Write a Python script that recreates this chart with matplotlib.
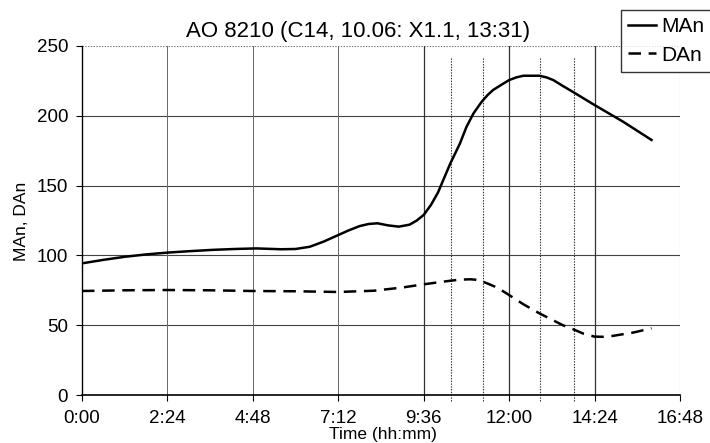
import matplotlib
matplotlib.use("Agg")
import matplotlib.pyplot as plt

plt.rcParams['font.family'] = ['Liberation Sans', 'DejaVu Sans']
plt.rcParams['lines.scale_dashes'] = False

# Data (time in hours)
man_hours = [0.0, 0.6, 1.2, 1.8, 2.4, 3.0, 3.7, 4.3, 4.9, 5.6, 6.0, 6.4, 6.8, 7.2,
             7.5, 7.8, 8.05, 8.3, 8.6, 8.9, 9.2, 9.4, 9.6, 9.8, 10.0, 10.2, 10.35,
             10.62, 10.8, 11.0, 11.23, 11.4, 11.55, 11.8, 12.0, 12.2, 12.4, 12.85,
             13.05, 13.24, 13.5, 13.78, 14.4, 15.2, 16.0]
man_values = [94.3, 96.8, 99.0, 100.7, 102.0, 103.0, 104.0, 104.6, 105.0, 104.4,
              104.6, 106.2, 110.0, 114.6, 118.0, 121.0, 122.5, 123.0, 121.5, 120.6,
              122.0, 124.9, 129.0, 136.0, 145.0, 157.0, 166.0, 180.3, 192.0, 201.8,
              210.1, 215.0, 218.5, 222.5, 225.6, 227.5, 228.7, 228.7, 227.5, 225.6,
              221.5, 217.3, 207.7, 195.8, 182.7]

dan_hours = [0.0, 1.2, 2.4, 3.6, 4.8, 6.0, 7.2, 8.2, 9.0, 9.6, 10.3, 10.6, 10.9,
             11.05, 11.2, 11.4, 11.6, 11.8, 12.0, 12.4, 12.85, 13.5, 13.8, 14.1,
             14.4, 14.65, 14.9, 15.5, 16.0]
dan_values = [74.5, 75.0, 75.2, 75.0, 74.5, 74.3, 73.8, 74.7, 77.0, 79.3, 81.7,
              82.6, 82.9, 82.6, 81.7, 79.8, 77.6, 74.8, 71.6, 65.0, 58.5, 50.1,
              47.1, 43.8, 41.8, 41.7, 42.3, 44.8, 47.8]

tick_hours = [0, 2.4, 4.8, 7.2, 9.6, 12.0, 14.4, 16.8]
tick_labels = ["0:00", "2:24", "4:48", "7:12", "9:36", "12:00", "14:24", "16:48"]
event_hours = [10.36, 11.26, 12.86, 13.82]
y_ticks = [0, 50, 100, 150, 200, 250]

title = "AO 8210 (C14, 10.06: X1.1, 13:31)"

W, H = 710, 443
fig = plt.figure(figsize=(W / 100, H / 100), dpi=100)
ax = fig.add_axes([82 / W, 1 - 395 / H, (680 - 82) / W, (395 - 46) / H])

ax.set_xlim(0, 16.8)
ax.set_ylim(0, 250)

# horizontal gridlines
for v in y_ticks[1:-1]:
    ax.axhline(v, color='#444444', lw=0.8, zorder=1)
ax.axhline(250, color='#777777', lw=0.8, ls=(0, (1, 1)), zorder=1)

# vertical gridlines at ticks
for h in tick_hours[1:-1]:
    dark = h >= 9.5
    ax.axvline(h, color='#333333' if dark else '#666666', lw=0.9 if dark else 0.7, zorder=1)
ax.axvline(16.8, color='#777777', lw=0.8, ls=(0, (1, 1)), zorder=1)

# event lines
for h in event_hours:
    ax.vlines(h, -4, 242, color='#333333', lw=0.8, ls=(0, (1, 1)), zorder=1, clip_on=False)

ax.plot(man_hours, man_values, color='black', lw=1.8, label='MAn', zorder=3,
        solid_joinstyle='round')
ax.plot(dan_hours, dan_values, color='black', lw=1.8, dashes=[9, 5.5], label='DAn',
        zorder=3)

for s in ['top', 'right']:
    ax.spines[s].set_visible(False)
ax.spines['left'].set_linewidth(1.0)
ax.spines['bottom'].set_linewidth(1.2)

ax.set_xticks(tick_hours)
ax.set_xticklabels(tick_labels)
ax.set_yticks(y_ticks)
ax.tick_params(axis='x', direction='out', length=4, width=0.8, pad=7, labelsize=13.5)
ax.tick_params(axis='y', direction='out', length=4, width=0.8, pad=6, labelsize=13.5)

fig.text(383 / W, 1 - 435 / H, "Time (hh:mm)", ha='center', va='center', fontsize=12.5)
fig.text(22 / W, 1 - 221 / H, "MAn, DAn", ha='center', va='center', rotation=90, fontsize=12.5)
fig.text(358 / W, 1 - 31 / H, title, ha='center', va='center', fontsize=16)

leg = fig.legend(loc='upper left', bbox_to_anchor=(621 / W, 1 - 10 / H),
                 frameon=True, fancybox=False, edgecolor='black', fontsize=15,
                 handlelength=1.35, handletextpad=0.25, borderpad=0.35,
                 labelspacing=0.45, borderaxespad=0)
leg.get_frame().set_linewidth(1.0)

fig.savefig("out.png", dpi=100)
